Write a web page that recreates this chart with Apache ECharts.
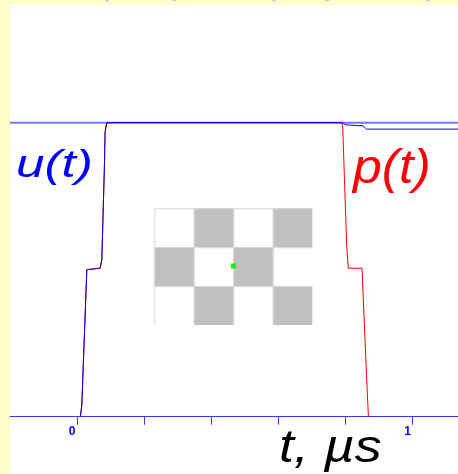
<!DOCTYPE html>
<html><head><meta charset="utf-8">
<style>html,body{margin:0;padding:0;background:#ffffcc;}#c{width:458px;height:474px;}</style>
<script src="https://cdn.jsdelivr.net/npm/echarts@6/dist/echarts.min.js"></script>
</head><body><div id="c"></div>
<script>
// u(t) (blue) points: time in µs, normalized amplitude
const uT = [0.0098, 0.014, 0.0289, 0.0685, 0.0736, 0.0813, 0.0834, 0.0885, 0.789, 0.7915, 0.801, 0.852, 0.862, 1.135];
const uV = [0, 0.04, 0.5, 0.505, 0.533, 0.85, 0.969, 1, 1, 0.998, 0.9925, 0.989, 0.978, 0.978];
// p(t) (red)
const pT = [0.0098, 0.014, 0.0289, 0.0685, 0.0736, 0.0813, 0.0834, 0.0885, 0.7885, 0.7915, 0.8034, 0.8082, 0.849, 0.853, 0.863, 0.868];
const pV = [0, 0.04, 0.5, 0.505, 0.533, 0.85, 0.969, 1, 1, 0.985, 0.578, 0.505, 0.505, 0.397, 0.125, 0];
// reference level line
const refT = [-0.2, 1.135];
const refV = [1, 1];
// axis ticks
const tickVals = [-0.2, 0, 0.2, 0.4, 0.6, 0.8, 1.0];
const tickLabels = {"0": "0", "1": "1"};
// checkerboard pattern (1 = gray)
const checker = [[0,1,0,1],[1,0,1,0],[0,1,0,1]];

const chart = echarts.init(document.getElementById('c'), null, {renderer: 'canvas'});
const zip = (a, b) => a.map((v, i) => [v, b[i]]);

const graphics = [
  {type: 'rect', z: -10, shape: {x: 10, y: 5, width: 448, height: 469}, style: {fill: '#ffffff'}}
];
[107.3, 174.3, 274, 327.3, 427.7].forEach(cx => {
  graphics.push({type: 'circle', z: -5, shape: {cx: cx, cy: -1, r: 2.5}, style: {fill: '#c8ccd4'}});
});
const cbX = 154.3, cbY = 208.3, cw = 39.5, ch = 38.9;
checker.forEach((row, r) => row.forEach((g, c) => {
  if (g) graphics.push({type: 'rect', z: -4, shape: {x: cbX + c * cw, y: cbY + r * ch, width: cw, height: ch}, style: {fill: '#c0c0c0'}});
}));
for (let c = 0; c < 4; c++) {
  graphics.push({type: 'line', z: -3, shape: {x1: cbX + c * cw + 0.5, y1: cbY, x2: cbX + c * cw + 0.5, y2: cbY + 3 * ch}, style: {stroke: '#d6d6d6', lineWidth: 1}});
}
for (let r = 0; r < 3; r++) {
  graphics.push({type: 'line', z: -3, shape: {x1: cbX, y1: cbY + r * ch + 0.5, x2: cbX + 4 * cw, y2: cbY + r * ch + 0.5}, style: {stroke: '#d6d6d6', lineWidth: 1}});
}
graphics.push({type: 'rect', z: 5, shape: {x: 231, y: 263.5, width: 5, height: 5}, style: {fill: '#00ff00'}});
graphics.push({type: 'text', z: 10, x: 16, y: 147, scaleX: 1.35, style: {text: 'u(t)', font: 'italic 38px "Liberation Sans"', fill: '#0000ff', verticalAlign: 'top'}});
graphics.push({type: 'text', z: 10, x: 353, y: 146, scaleX: 1.08, style: {text: 'p(t)', font: 'italic 48px "Liberation Sans"', fill: '#ff0000', verticalAlign: 'top'}});
graphics.push({type: 'text', z: 10, x: 279, y: 426, scaleX: 1.17, style: {text: 't, µs', font: 'italic 46px "Liberation Sans"', fill: '#000000', verticalAlign: 'top'}});

chart.setOption({
  backgroundColor: '#ffffcc',
  animation: false,
  grid: {left: 10, right: 0, top: 5, bottom: 57.3},
  xAxis: {
    type: 'value', min: -0.2, max: 1.135, interval: 0.2,
    axisLine: {show: true, onZero: false, lineStyle: {color: '#3838ff', width: 1}},
    axisTick: {show: true, inside: false, length: 8, lineStyle: {color: '#3838ff'}},
    splitLine: {show: false},
    axisLabel: {
      show: true, margin: 9, color: '#0000ff', fontWeight: 'bold', fontSize: 12, fontFamily: 'Liberation Sans',
      padding: [0, 10, 0, 0], showMinLabel: false, showMaxLabel: false,
      formatter: v => { const k = String(Math.round(v * 10) / 10); return tickLabels[k] || ''; }
    }
  },
  yAxis: {type: 'value', min: 0, max: 1.4, show: false, splitLine: {show: false}},
  graphic: graphics,
  series: [
    {type: 'line', data: zip(refT, refV), symbol: 'none', z: 1, lineStyle: {color: '#7878ff', width: 2}},
    {type: 'line', data: zip(pT, pV), symbol: 'none', z: 2, lineStyle: {color: '#ff0000', width: 1}},
    {type: 'line', data: zip(uT, uV), symbol: 'none', z: 3, lineStyle: {color: '#0000ff', width: 1}}
  ]
});
</script></body></html>
